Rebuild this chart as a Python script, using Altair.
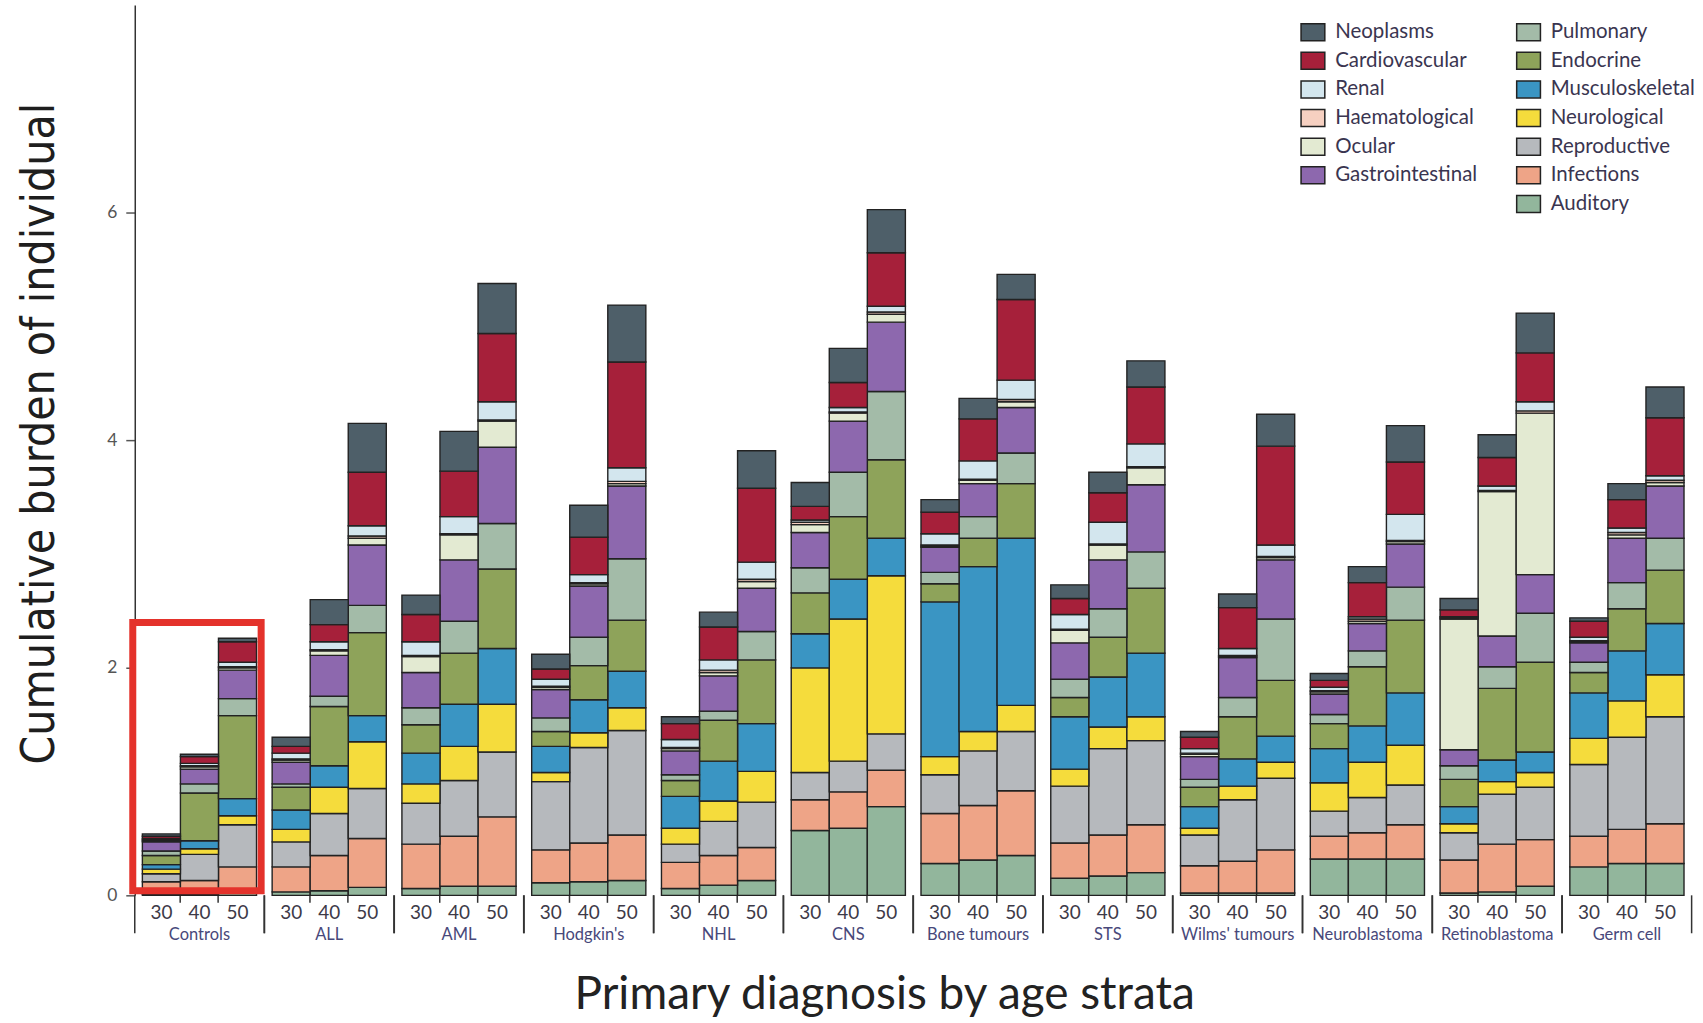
import altair as alt
import pandas as pd

groups = ["Controls", "ALL", "AML", "Hodgkin's", "NHL", "CNS", "Bone tumours",
          "STS", "Wilms' tumours", "Neuroblastoma", "Retinoblastoma", "Germ cell"]
ages = ["30", "40", "50"]

# stacking order from bottom to top
stack_cats = ["Auditory", "Infections", "Reproductive", "Neurological", "Musculoskeletal",
              "Endocrine", "Pulmonary", "Gastrointestinal", "Ocular", "Haematological",
              "Renal", "Cardiovascular", "Neoplasms"]

# values per category: 12 groups x 3 age strata (30, 40, 50)
auditory = [0.01, 0.01, 0.02, 0.03, 0.04, 0.07, 0.06, 0.08, 0.08, 0.11, 0.12, 0.13,
            0.06, 0.09, 0.13, 0.57, 0.59, 0.78, 0.28, 0.31, 0.35, 0.15, 0.17, 0.20,
            0.02, 0.02, 0.02, 0.32, 0.32, 0.32, 0.02, 0.03, 0.08, 0.25, 0.28, 0.28]
infections = [0.11, 0.12, 0.23, 0.22, 0.31, 0.43, 0.39, 0.44, 0.61, 0.29, 0.34, 0.40,
              0.23, 0.26, 0.29, 0.27, 0.32, 0.32, 0.44, 0.48, 0.57, 0.31, 0.36, 0.42,
              0.24, 0.28, 0.38, 0.20, 0.23, 0.30, 0.29, 0.42, 0.41, 0.27, 0.30, 0.35]
reproductive = [0.07, 0.23, 0.37, 0.22, 0.37, 0.44, 0.36, 0.49, 0.57, 0.60, 0.84, 0.92,
                0.16, 0.30, 0.40, 0.24, 0.27, 0.32, 0.34, 0.48, 0.52, 0.50, 0.76, 0.74,
                0.27, 0.54, 0.63, 0.22, 0.31, 0.35, 0.24, 0.44, 0.46, 0.63, 0.81, 0.94]
neurological = [0.04, 0.05, 0.08, 0.11, 0.23, 0.41, 0.17, 0.30, 0.42, 0.08, 0.13, 0.20,
                0.14, 0.18, 0.27, 0.92, 1.25, 1.39, 0.16, 0.17, 0.23, 0.15, 0.19, 0.21,
                0.06, 0.12, 0.14, 0.25, 0.31, 0.35, 0.08, 0.11, 0.13, 0.23, 0.32, 0.37]
musculoskeletal = [0.04, 0.07, 0.15, 0.17, 0.19, 0.23, 0.27, 0.37, 0.49, 0.23, 0.29, 0.32,
                   0.28, 0.35, 0.42, 0.30, 0.35, 0.33, 1.36, 1.45, 1.47, 0.46, 0.44, 0.56,
                   0.19, 0.24, 0.23, 0.30, 0.32, 0.46, 0.15, 0.19, 0.18, 0.40, 0.44, 0.45]
endocrine = [0.08, 0.42, 0.73, 0.20, 0.52, 0.73, 0.25, 0.45, 0.70, 0.13, 0.30, 0.45,
             0.14, 0.36, 0.56, 0.36, 0.55, 0.69, 0.16, 0.25, 0.48, 0.17, 0.35, 0.57,
             0.17, 0.37, 0.49, 0.22, 0.52, 0.64, 0.24, 0.63, 0.79, 0.18, 0.37, 0.47]
pulmonary = [0.04, 0.08, 0.15, 0.03, 0.09, 0.24, 0.15, 0.28, 0.40, 0.12, 0.25, 0.54,
             0.05, 0.08, 0.25, 0.22, 0.39, 0.60, 0.10, 0.19, 0.27, 0.16, 0.25, 0.32,
             0.07, 0.17, 0.54, 0.08, 0.14, 0.29, 0.12, 0.19, 0.43, 0.09, 0.23, 0.28]
gastrointestinal = [0.08, 0.13, 0.25, 0.19, 0.36, 0.53, 0.31, 0.54, 0.67, 0.25, 0.45, 0.64,
                    0.21, 0.31, 0.38, 0.31, 0.45, 0.61, 0.22, 0.29, 0.40, 0.32, 0.43, 0.59,
                    0.20, 0.35, 0.52, 0.18, 0.24, 0.38, 0.14, 0.27, 0.34, 0.17, 0.39, 0.46]
ocular = [0.01, 0.02, 0.02, 0.02, 0.04, 0.06, 0.14, 0.22, 0.23, 0.02, 0.02, 0.02,
          0.02, 0.03, 0.06, 0.07, 0.07, 0.07, 0.01, 0.03, 0.05, 0.11, 0.13, 0.15,
          0.02, 0.01, 0.02, 0.02, 0.02, 0.02, 1.15, 1.27, 1.42, 0.01, 0.03, 0.03]
haematological = [0.01, 0.01, 0.01, 0.01, 0.01, 0.02, 0.01, 0.01, 0.01, 0.01, 0.01, 0.02,
                  0.01, 0.02, 0.02, 0.02, 0.01, 0.02, 0.01, 0.01, 0.02, 0.01, 0.01, 0.01,
                  0.01, 0.01, 0.01, 0.01, 0.02, 0.01, 0.01, 0.01, 0.02, 0.01, 0.02, 0.02]
renal = [0.01, 0.02, 0.04, 0.05, 0.07, 0.09, 0.12, 0.15, 0.16, 0.06, 0.07, 0.12,
         0.07, 0.09, 0.15, 0.02, 0.04, 0.05, 0.10, 0.16, 0.17, 0.13, 0.19, 0.20,
         0.04, 0.06, 0.10, 0.03, 0.02, 0.23, 0.01, 0.04, 0.08, 0.03, 0.04, 0.04]
cardiovascular = [0.02, 0.06, 0.18, 0.06, 0.15, 0.47, 0.24, 0.40, 0.60, 0.09, 0.33, 0.93,
                  0.14, 0.29, 0.65, 0.12, 0.22, 0.47, 0.19, 0.37, 0.71, 0.14, 0.26, 0.50,
                  0.10, 0.36, 0.87, 0.06, 0.30, 0.46, 0.06, 0.25, 0.43, 0.14, 0.25, 0.51]
neoplasms = [0.02, 0.02, 0.03, 0.08, 0.22, 0.43, 0.17, 0.35, 0.44, 0.13, 0.28, 0.50,
             0.06, 0.13, 0.33, 0.21, 0.30, 0.38, 0.11, 0.18, 0.22, 0.12, 0.18, 0.23,
             0.05, 0.12, 0.28, 0.06, 0.14, 0.32, 0.10, 0.20, 0.35, 0.03, 0.14, 0.27]

series = {
    "Auditory": auditory, "Infections": infections, "Reproductive": reproductive,
    "Neurological": neurological, "Musculoskeletal": musculoskeletal,
    "Endocrine": endocrine, "Pulmonary": pulmonary, "Gastrointestinal": gastrointestinal,
    "Ocular": ocular, "Haematological": haematological, "Renal": renal,
    "Cardiovascular": cardiovascular, "Neoplasms": neoplasms,
}

colors = {
    "Neoplasms": "#4e5f69", "Cardiovascular": "#a6203a", "Renal": "#d3e6ee",
    "Haematological": "#f6d0c1", "Ocular": "#e3ead2", "Gastrointestinal": "#8d68ae",
    "Pulmonary": "#a3bba8", "Endocrine": "#8ea35a", "Musculoskeletal": "#3a95c3",
    "Neurological": "#f5dc3c", "Reproductive": "#b6b9bd", "Infections": "#eea487",
    "Auditory": "#92b69c", " ": "transparent",
}

# legend filled column by column (blank slot closes the first column)
legend_order = ["Neoplasms", "Cardiovascular", "Renal", "Haematological", "Ocular",
                "Gastrointestinal", " ", "Pulmonary", "Endocrine", "Musculoskeletal",
                "Neurological", "Reproductive", "Infections", "Auditory"]

# highlighted group (red frame) and its vertical extent in data units
highlight_group = "Controls"
highlight_top = 2.40
highlight_bottom = 0.04

rows = []
for ci, cat in enumerate(stack_cats):
    vals = series[cat]
    k = 0
    for g in groups:
        for a in ages:
            rows.append({"group": g, "age": a, "category": cat, "value": vals[k], "stack": ci})
            k += 1
df = pd.DataFrame(rows)

W = 129.6
H = 892
FONT = "Lato"

legend = alt.Legend(
    title=None, orient="none", legendX=1170, legendY=17, columns=2,
    symbolType="M-1.4,-1H1.4V1H-1.4Z", symbolSize=289, symbolStrokeWidth=1.5,
    labelFont=FONT, labelFontSize=20.5, labelColor="#3a3550", labelOffset=12,
    rowPadding=4.7, columnPadding=36, padding=0, labelLimit=300,
)

bars = alt.Chart().mark_bar(strokeWidth=1.4).encode(
    x=alt.X("age:N", sort=ages, title=None,
            scale=alt.Scale(paddingInner=0, paddingOuter=0.2),
            axis=alt.Axis(labelAngle=0, labelFont=FONT, labelFontSize=19, labelColor="#3d3a48",
                          labelPadding=1, bandPosition=0, tickSize=7, tickColor="#333",
                          tickWidth=1.5, domain=False,
                          tickOpacity={"condition": {"test": "datum.value == '30'", "value": 0}, "value": 1})),
    y=alt.Y("value:Q", stack="zero",
            scale=alt.Scale(domain=[0, 7.83], nice=False, zero=True),
            axis=alt.Axis(values=[0, 2, 4, 6], format="d", title="Cumulative burden of individual",
                          titleFont="'Liberation Sans Narrow', 'DejaVu Sans Condensed', Lato",
                          titleFontSize=46, titleFontWeight="normal", titleColor="#1e1e1e",
                          titlePadding=43.5, titleY=H / 2 - 17,
                          labelFont=FONT, labelFontSize=17.5, labelColor="#555",
                          labelPadding=9, tickSize=9, tickColor="#555", tickWidth=1.5,
                          domainColor="#333", domainWidth=1.5, grid=False)),
    color=alt.Color("category:N", scale=alt.Scale(domain=legend_order,
                                                  range=[colors[c] for c in legend_order]),
                    legend=legend),
    stroke=alt.Stroke("category:N", scale=alt.Scale(domain=legend_order,
                                                    range=["transparent" if c == " " else "#222" for c in legend_order]),
                      legend=legend),
    order=alt.Order("stack:Q"),
)

one_per_group = "datum.category == 'Auditory' && datum.age == '40'"

edge_l = alt.Chart().mark_rule(color="#333", strokeWidth=1.5).encode(
    x=alt.value(0), y=alt.value(H), y2=alt.value(H + 38)
).transform_filter(one_per_group)
edge_r = alt.Chart().mark_rule(color="#333", strokeWidth=1.5).encode(
    x=alt.value(W), y=alt.value(H), y2=alt.value(H + 38)
).transform_filter(one_per_group)
group_text = alt.Chart().mark_text(font=FONT, fontSize=16.5, color="#48487a", baseline="middle").encode(
    x=alt.value(W / 2), y=alt.value(H + 40), text="group:N"
).transform_filter(one_per_group)

frame = alt.Chart().mark_rect(filled=False, stroke="#e4322b", strokeWidth=7).encode(
    x=alt.value(-2), x2=alt.value(W - 3),
    y=alt.datum(highlight_top), y2=alt.datum(highlight_bottom),
).transform_filter(one_per_group).transform_filter(alt.datum.group == highlight_group)

chart = alt.layer(bars, edge_l, edge_r, group_text, frame, data=df).properties(width=W, height=H).facet(
    column=alt.Column("group:N", sort=groups, title=None, header=alt.Header(labels=False)),
    spacing=0,
    bounds="flush",
).resolve_axis(x="independent").properties(
    title=alt.TitleParams("Primary diagnosis by age strata", orient="bottom", anchor="middle",
                          frame="bounds", font=FONT, fontSize=46, fontWeight="normal",
                          color="#222", offset=29, dx=29),
    padding={"left": 16, "top": 4, "right": 8, "bottom": 5},
).configure_view(stroke=None)

chart.save("out.html", embed_options={"renderer": "svg", "actions": False})
